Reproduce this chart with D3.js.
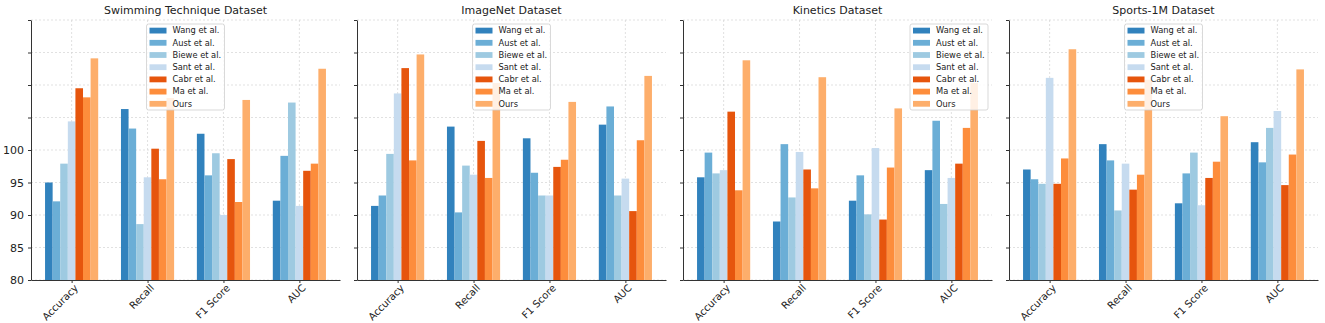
<!DOCTYPE html>
<html>
<head>
<meta charset="utf-8">
<script src="https://cdn.jsdelivr.net/npm/d3@7"></script>
<style>
  html, body { margin: 0; padding: 0; background: #fff; }
  svg { display: block; font-family: "DejaVu Sans", sans-serif; }
</style>
</head>
<body>
<svg id="chart" width="1325" height="323"></svg>
<script>
// ---- data ----
const datasets = ["Swimming Technique Dataset", "ImageNet Dataset", "Kinetics Dataset", "Sports-1M Dataset"];
const metrics = ["Accuracy", "Recall", "F1 Score", "AUC"];
const methods = ["Wang et al.", "Aust et al.", "Biewe et al.", "Sant et al.", "Cabr et al.", "Ma et al.", "Ours"];
const methodColors = ["#3182bd", "#6baed6", "#9ecae1", "#c6dbef", "#e6550d", "#fd8d3c", "#fdae6b"];
const yTicks = [80, 85, 90, 95, 100, 105, 110, 115, 120];
const yTickLabels = ["80", "85", "90", "95", "100", "", "", "", ""];
const legendPlacement = ["center", "center", "right", "center"];

// values[method] = [Accuracy, Recall, F1 Score, AUC] per dataset
const swimming = {
  "Wang et al.":  [95.0, 106.3, 102.5, 92.2],
  "Aust et al.":  [92.1, 103.3, 96.1, 99.1],
  "Biewe et al.": [97.9, 88.6, 99.5, 107.3],
  "Sant et al.":  [104.4, 95.8, 90.0, 91.4],
  "Cabr et al.":  [109.5, 100.2, 98.6, 96.8],
  "Ma et al.":    [108.1, 95.5, 92.0, 97.9],
  "Ours":         [114.1, 108.0, 107.7, 112.5]
};
const imagenet = {
  "Wang et al.":  [91.4, 103.6, 101.8, 103.9],
  "Aust et al.":  [93.0, 90.4, 96.5, 106.7],
  "Biewe et al.": [99.4, 97.6, 93.0, 93.0],
  "Sant et al.":  [108.7, 96.2, 93.0, 95.6],
  "Cabr et al.":  [112.6, 101.4, 97.4, 90.6],
  "Ma et al.":    [98.4, 95.7, 98.5, 101.5],
  "Ours":         [114.7, 110.3, 107.4, 111.4]
};
const kinetics = {
  "Wang et al.":  [95.8, 89.0, 92.2, 96.9],
  "Aust et al.":  [99.6, 100.9, 96.1, 104.5],
  "Biewe et al.": [96.4, 92.7, 90.1, 91.7],
  "Sant et al.":  [96.9, 99.7, 100.3, 95.7],
  "Cabr et al.":  [105.9, 97.0, 89.3, 97.9],
  "Ma et al.":    [93.8, 94.1, 97.3, 103.4],
  "Ours":         [113.8, 111.2, 106.4, 110.3]
};
const sports1m = {
  "Wang et al.":  [97.0, 100.9, 91.8, 101.2],
  "Aust et al.":  [95.5, 98.4, 96.4, 98.1],
  "Biewe et al.": [94.8, 90.7, 99.6, 103.4],
  "Sant et al.":  [111.1, 97.9, 91.5, 106.0],
  "Cabr et al.":  [94.8, 93.9, 95.7, 94.6],
  "Ma et al.":    [98.7, 96.2, 98.2, 99.3],
  "Ours":         [115.5, 110.8, 105.2, 112.4]
};
const allValues = [swimming, imagenet, kinetics, sports1m];

// ---- layout ----
const svg = d3.select("#chart");
const firstLeft = 31, panelStep = 326, panelW = 309;
const plotTop = 20, plotBottom = 280;
const barW = 0.1;

const y = d3.scaleLinear().domain([80, 120]).range([plotBottom, plotTop]);
const color = d3.scaleOrdinal().domain(methods).range(methodColors);

datasets.forEach((name, p) => {
  const left = firstLeft + p * panelStep;
  const x = d3.scaleLinear().domain([-0.535, 3.535]).range([left, left + panelW]);
  const g = svg.append("g");
  const vals = allValues[p];

  // grid
  g.append("g").selectAll("line").data(yTicks).join("line")
    .attr("x1", left).attr("x2", left + panelW)
    .attr("y1", d => y(d)).attr("y2", d => y(d))
    .attr("stroke", "#d4d4d4").attr("stroke-width", 0.7).attr("stroke-dasharray", "2,2");
  g.append("g").selectAll("line").data(metrics).join("line")
    .attr("x1", (d, i) => x(i)).attr("x2", (d, i) => x(i))
    .attr("y1", plotTop).attr("y2", plotBottom)
    .attr("stroke", "#d4d4d4").attr("stroke-width", 0.7).attr("stroke-dasharray", "2,2");

  // bars
  methods.forEach((m, j) => {
    g.append("g").selectAll("rect").data(vals[m]).join("rect")
      .attr("x", (d, i) => x(i + (j - 3) * barW - barW / 2))
      .attr("width", x(barW) - x(0))
      .attr("y", d => y(d))
      .attr("height", d => y(80) - y(d))
      .attr("fill", color(m));
  });

  // y axis (labels only on the first panel, shared y)
  const yAxis = d3.axisLeft(y).tickValues(yTicks)
    .tickFormat((d, i) => p === 0 ? yTickLabels[i] : "")
    .tickSizeInner(3).tickSizeOuter(0).tickPadding(4);
  const ya = g.append("g").attr("transform", `translate(${left},0)`).call(yAxis);
  ya.select(".domain").attr("stroke", "#333").attr("stroke-width", 1);
  ya.selectAll(".tick line").attr("stroke", "#333");
  ya.selectAll("text").attr("font-size", 11).attr("fill", "#222")
    .attr("font-family", "DejaVu Sans, sans-serif");

  // x axis
  const xAxis = d3.axisBottom(x).tickValues(d3.range(metrics.length))
    .tickFormat(i => metrics[i]).tickSizeInner(3).tickSizeOuter(0);
  const xa = g.append("g").attr("transform", `translate(0,${plotBottom})`).call(xAxis);
  xa.select(".domain").attr("stroke", "#333").attr("stroke-width", 1);
  xa.selectAll(".tick line").attr("stroke", "#333");
  xa.selectAll("text").attr("font-size", 10).attr("fill", "#222")
    .attr("font-family", "DejaVu Sans, sans-serif")
    .attr("text-anchor", "end")
    .attr("dy", "0.35em")
    .attr("transform", "translate(2,4) rotate(-45)")
    .attr("y", 3);

  // title
  g.append("text")
    .attr("x", left + panelW / 2).attr("y", 14)
    .attr("text-anchor", "middle")
    .attr("font-size", 11).attr("fill", "#222")
    .text(name);

  // legend
  const fs = 8.3, rowH = 12.2, lw = 78, lh = 86;
  const lx = legendPlacement[p] === "right" ? left + panelW - 4 - lw : left + panelW / 2 - lw / 2;
  const ly = 24;
  const lg = g.append("g").attr("transform", `translate(${lx},${ly})`);
  lg.append("rect").attr("width", lw).attr("height", lh).attr("rx", 2)
    .attr("fill", "#fff").attr("fill-opacity", 0.82)
    .attr("stroke", "#cfcfcf").attr("stroke-width", 0.8);
  methods.forEach((m, j) => {
    const cy = 6.5 + j * rowH;
    lg.append("rect").attr("x", 3).attr("y", cy - 2.8).attr("width", 17).attr("height", 5.8)
      .attr("fill", color(m));
    lg.append("text").attr("x", 26).attr("y", cy).attr("dy", "0.35em")
      .attr("font-size", fs).attr("fill", "#222").text(m);
  });
});
</script>
</body>
</html>
